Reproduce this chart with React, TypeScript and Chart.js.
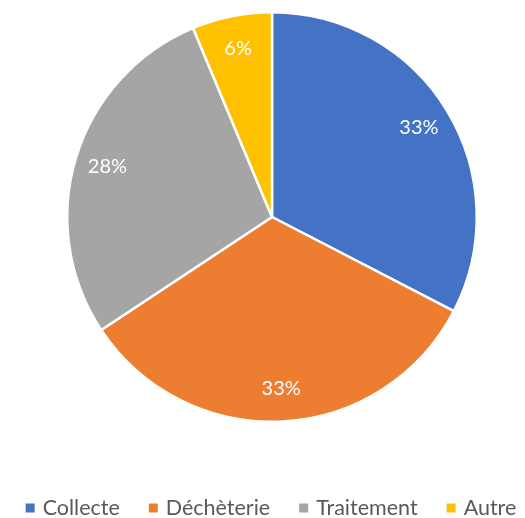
import React, { useEffect, useRef } from "react";
import { Chart, registerables } from "chart.js";

Chart.register(...registerables);

const categories = ["Collecte", "Déchèterie", "Traitement", "Autre"];
const values = [32.6, 33.1, 28.0, 6.3];
const colors = ["#4472C4", "#ED7D31", "#A5A5A5", "#FFC000"];
const FONT = "Lato, 'Open Sans', sans-serif";

const labelPlugin = {
  id: "sliceLabels",
  afterDatasetsDraw(chart: any) {
    const ctx = chart.ctx;
    const meta = chart.getDatasetMeta(0);
    const total = values.reduce((a, b) => a + b, 0);
    ctx.save();
    ctx.fillStyle = "#ffffff";
    ctx.font = `20px ${FONT}`;
    ctx.textAlign = "center";
    ctx.textBaseline = "middle";
    meta.data.forEach((arc: any, i: number) => {
      const { x, y, startAngle, endAngle, outerRadius } = arc.getProps(
        ["x", "y", "startAngle", "endAngle", "outerRadius"],
        true
      );
      const mid = (startAngle + endAngle) / 2;
      const r = outerRadius * 0.84;
      const pct = Math.round((values[i] / total) * 100) + "%";
      ctx.fillText(pct, x + Math.cos(mid) * r, y + Math.sin(mid) * r);
    });
    ctx.restore();
  },
};

const legendPlugin = {
  id: "customLegend",
  afterDraw(chart: any) {
    const ctx = chart.ctx;
    ctx.save();
    ctx.font = `21.5px ${FONT}`;
    ctx.textBaseline = "middle";
    const box = 9;
    const gapBoxText = 8;
    const gapItems = 29;
    const widths = categories.map((c) => ctx.measureText(c).width);
    const total =
      widths.reduce((a, w) => a + box + gapBoxText + w, 0) +
      gapItems * (categories.length - 1);
    let x = 271 - total / 2;
    const y = 508;
    categories.forEach((c, i) => {
      ctx.fillStyle = colors[i];
      ctx.fillRect(x, y - box / 2, box, box);
      x += box + gapBoxText;
      ctx.fillStyle = "#595959";
      ctx.fillText(c, x, y);
      x += widths[i] + gapItems;
    });
    ctx.restore();
  },
};

export default function App() {
  const ref = useRef<HTMLCanvasElement>(null);
  useEffect(() => {
    if (!ref.current) return;
    const chart = new Chart(ref.current, {
      type: "pie",
      data: {
        labels: categories,
        datasets: [
          {
            data: values,
            backgroundColor: colors,
            borderColor: "#ffffff",
            borderWidth: 2.5,
          },
        ],
      },
      options: {
        animation: false,
        responsive: false,
        maintainAspectRatio: false,
        layout: { padding: { top: 11, bottom: 95, left: 19, right: 0 } },
        plugins: {
          legend: { display: false },
          tooltip: { enabled: false },
        },
      },
      plugins: [labelPlugin, legendPlugin],
    });
    return () => chart.destroy();
  }, []);
  return (
    <div style={{ position: "absolute", left: 0, top: 0, width: 525, height: 518, background: "#fff" }}>
      <canvas ref={ref} width={525} height={518} />
    </div>
  );
}
